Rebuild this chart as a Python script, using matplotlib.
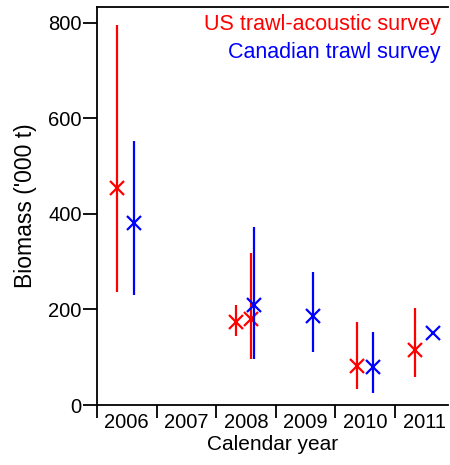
import numpy as np
import matplotlib.pyplot as plt

plt.rcParams["font.family"] = ["Liberation Sans", "DejaVu Sans"]

# US trawl-acoustic survey
us_time = [2006.34, 2008.33, 2008.58, 2010.36, 2011.34]
us_est = [455, 174, 180, 82, 115]
us_low = [237, 144, 96, 34, 59]
us_high = [796, 209, 318, 174, 203]

# Canadian trawl survey
can_time = [2006.62, 2008.63, 2009.62, 2010.63, 2011.64]
can_est = [381, 209, 186, 80, 151]
can_low = [230, 96, 111, 25, np.nan]
can_high = [553, 373, 279, 153, np.nan]

years = [2006, 2007, 2008, 2009, 2010, 2011]

fig = plt.figure(figsize=(4.5, 4.65), dpi=100)
ax = fig.add_axes([97 / 450, 1 - 405 / 465, 351 / 450, 398 / 465])

for t, est, lo, hi, col in [(us_time, us_est, us_low, us_high, "#ff0000"),
                            (can_time, can_est, can_low, can_high, "#0000ff")]:
    ax.vlines(t, lo, hi, color=col, lw=1.6)
    ax.plot(t, est, "x", color=col, ms=10, mew=1.6, ls="none")

ax.set_xlim(2006, 2006 + 351 / 59.6)
ax.set_ylim(0, 833)
ax.set_yticks([0, 200, 400, 600, 800])
ax.set_xticks(years)
ax.set_xticklabels([])
ax.set_xticks([y + 0.5 for y in years], minor=True)
ax.set_xticklabels([str(y) for y in years], minor=True)
ax.tick_params(axis="x", which="major", length=9, width=1.3)
ax.tick_params(axis="x", which="minor", length=0, pad=6, labelsize=14.5)
ax.tick_params(axis="y", length=10, width=1.3, pad=1, labelsize=14.5)
ax.spines["right"].set_visible(False)
for s in ["left", "bottom", "top"]:
    ax.spines[s].set_linewidth(1.3)

ax.set_xlabel("Calendar year", fontsize=15, labelpad=2)
ax.set_ylabel("Biomass ('000 t)", fontsize=16.5, labelpad=8)

ax.text(0.98, 0.955, "US trawl-acoustic survey", color="#ff0000",
        fontsize=15.5, ha="right", va="center", transform=ax.transAxes)
ax.text(0.98, 0.885, "Canadian trawl survey", color="#0000ff",
        fontsize=15.5, ha="right", va="center", transform=ax.transAxes)

fig.savefig("out.png", dpi=100)
